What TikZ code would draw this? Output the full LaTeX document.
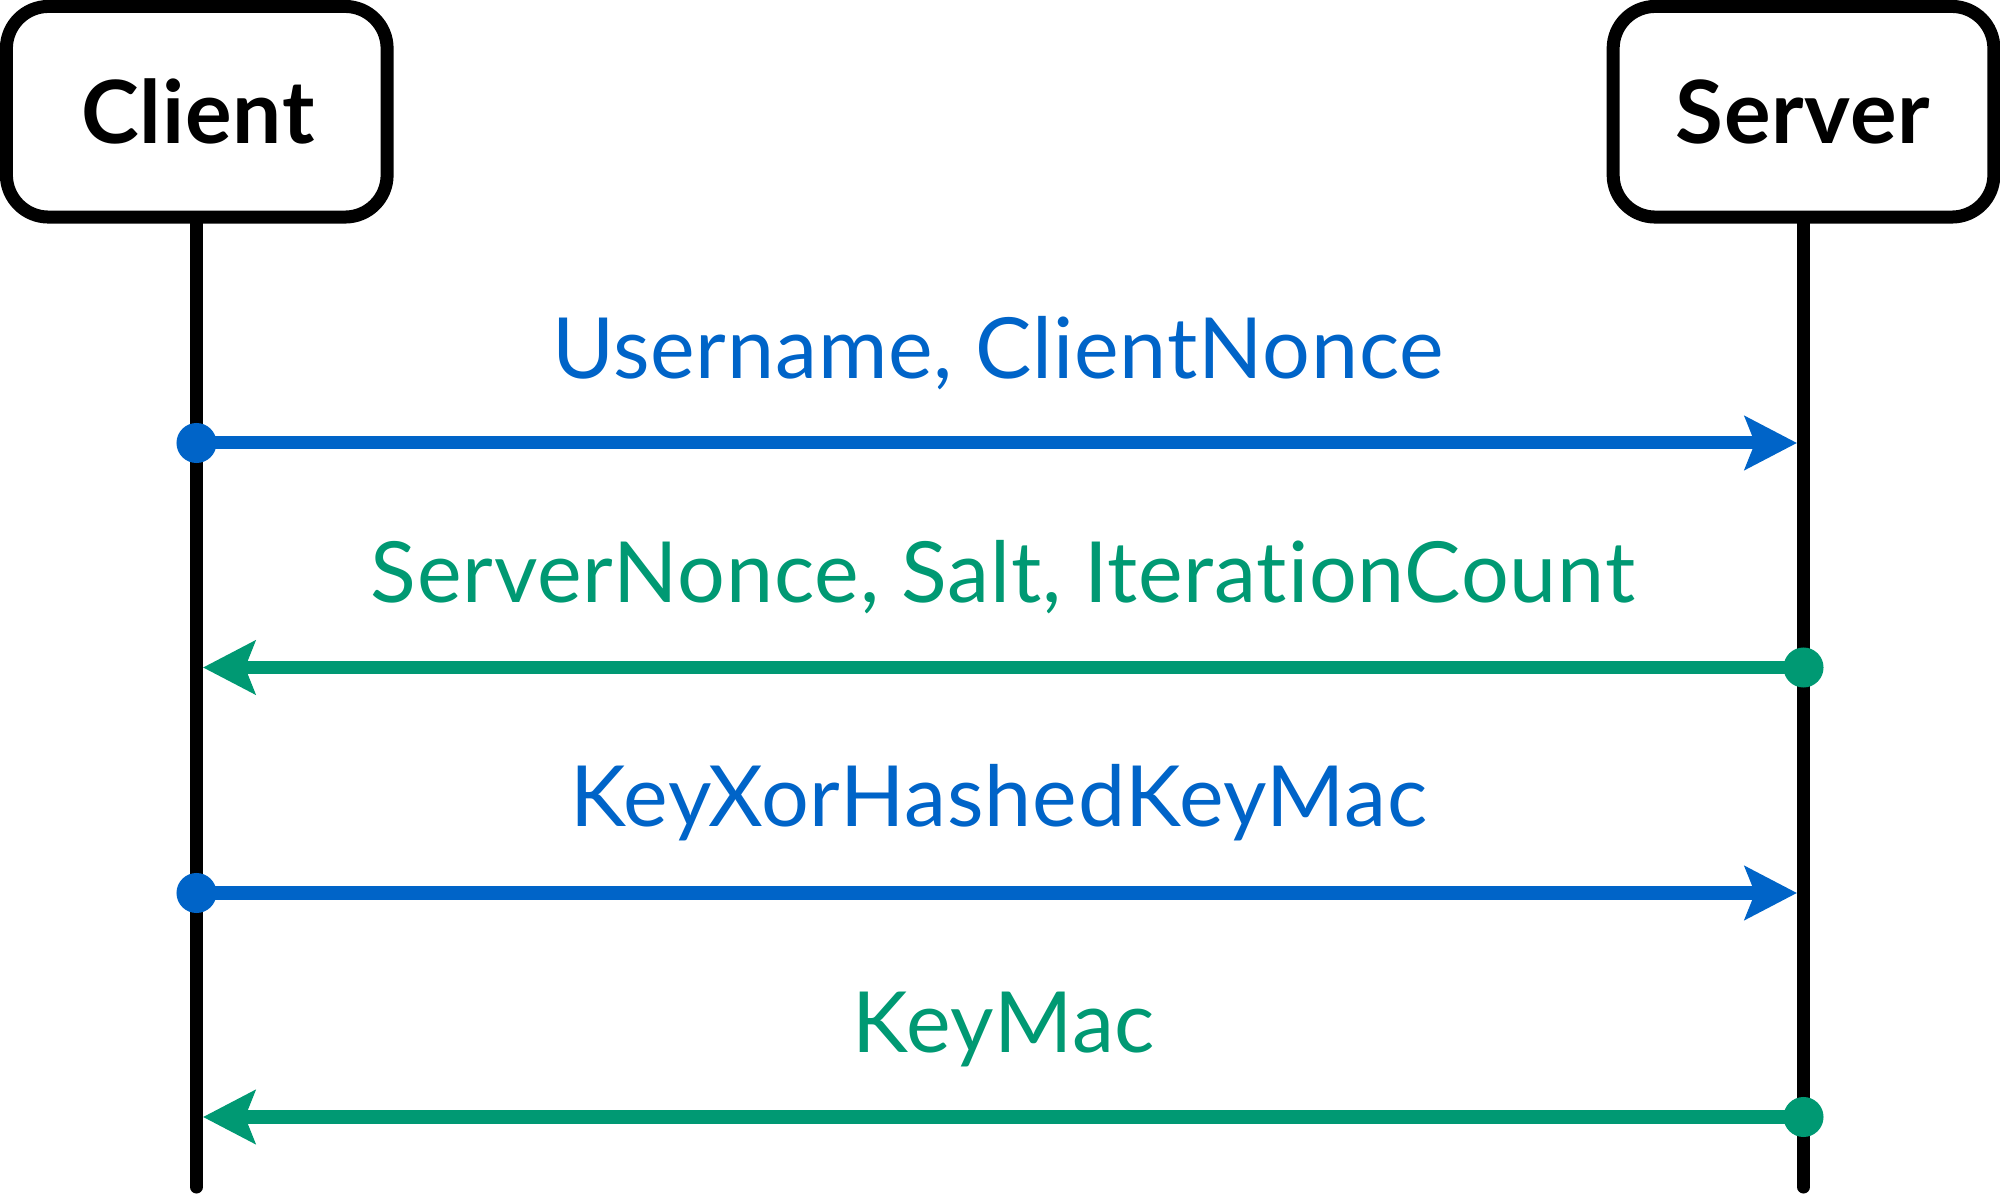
\documentclass[tikz,border=0pt]{standalone}
\usepackage{fontspec}
\setmainfont{Lato}
\newfontfamily\lblfont[LetterSpace=1.0,Ligatures=NoCommon]{Lato}
\usetikzlibrary{arrows.meta}
\definecolor{msgblue}{RGB}{0,100,200}
\definecolor{msggreen}{RGB}{0,153,115}
\begin{document}
\begin{tikzpicture}[x=0.01cm,y=-0.01cm,
  actor/.style={draw=black,line width=0.13cm,rounded corners=0.42cm,fill=white,
    minimum width=3.805cm,minimum height=2.105cm,inner sep=0pt},
  actorlbl/.style={anchor=base,inner sep=0pt,font=\lblfont\fontsize{24.8pt}{28pt}\selectfont\bfseries},
  lifeline/.style={draw=black,line width=0.13cm,line cap=round},
  msg/.style={line width=0.13cm,-{Stealth[length=0.52cm,width=0.53cm,inset=0.1cm]}},
  lbl/.style={anchor=base,inner sep=0pt,font=\lblfont\fontsize{24pt}{28pt}\selectfont},
  dot/.style={circle,inner sep=0pt,minimum size=0.4cm}]
\useasboundingbox (0,0) rectangle (2000,1195);
\coordinate (cend) at (196.5,1187);
\coordinate (send) at (1803.5,1187);
\draw[lifeline] (196.5,200) -- (cend);
\draw[lifeline] (1803.5,200) -- (send);
\node[actor] (client) at (196.75,111.75) {};
\node[actor] (server) at (1803.5,111.75) {};
\node[actorlbl] (clientlbl) at (198,144) {Client};
\node[actorlbl] (serverlbl) at (1803,144) {Server};
% message endpoints
\coordinate (c1) at (196.5,443); \coordinate (s1) at (1797,443);
\coordinate (s2) at (1803.5,667.5); \coordinate (c2) at (203,667.5);
\coordinate (c3) at (196.5,893); \coordinate (s3) at (1797,893);
\coordinate (s4) at (1803.5,1117); \coordinate (c4) at (203,1117);
\draw[msg,msgblue] (c1) -- (s1);
\draw[msg,msggreen] (s2) -- (c2);
\draw[msg,msgblue] (c3) -- (s3);
\draw[msg,msggreen] (s4) -- (c4);
\node[dot,fill=msgblue] (d1) at (c1) {};
\node[dot,fill=msggreen] (d2) at (s2) {};
\node[dot,fill=msgblue] (d3) at (c3) {};
\node[dot,fill=msggreen] (d4) at (s4) {};
\node[lbl,text=msgblue] (l1) at (998,379) {Username, ClientNonce};
\node[lbl,text=msggreen] (l2) at (1003,603) {ServerNonce, Salt, IterationCount};
\node[lbl,text=msgblue] (l3) at (999,827) {KeyXorHashedKeyMac};
\node[lbl,text=msggreen] (l4) at (1004,1052) {KeyMac};
\end{tikzpicture}
\end{document}
